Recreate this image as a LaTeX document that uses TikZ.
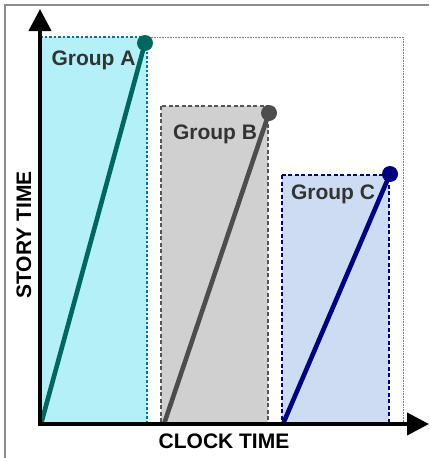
\documentclass[tikz,border=0pt]{standalone}
\usepackage{fontspec}
\setmainfont{Liberation Sans}
\usetikzlibrary{arrows.meta}
\definecolor{framegray}{HTML}{8C8C8C}
\definecolor{afill}{HTML}{B4F0F8}
\definecolor{aborder}{HTML}{0A6E9E}
\definecolor{aline}{HTML}{00665F}
\definecolor{bfill}{HTML}{D0D0D0}
\definecolor{bborder}{HTML}{555555}
\definecolor{bline}{HTML}{4D4D4D}
\definecolor{cfill}{HTML}{CEDCF3}
\definecolor{cborder}{HTML}{000080}
\definecolor{cline}{HTML}{000080}
\definecolor{labelgray}{HTML}{333333}
\tikzset{
  grouplabel/.style={font=\bfseries\fontsize{21}{24}\selectfont, text=labelgray, anchor=base, inner sep=0pt},
  axislabel/.style={font=\bfseries\fontsize{21}{24}\selectfont, text=black, inner sep=0pt},
  groupbox/.style={line width=2.3pt},
  timeline/.style={line width=4.6pt},
  enddot/.style={circle, inner sep=0pt, minimum size=16pt},
  axisline/.style={line width=4pt, -{Triangle[length=22pt,width=22pt]}}
}
\begin{document}
\begin{tikzpicture}[x=1pt,y=-1pt]
\useasboundingbox (0,0) rectangle (429,458);
% outer frame (partially visible)
\draw[framegray, line width=2.2pt] (5,458) -- (5,5) -- (429,5);
% thin dotted extent rectangle
\draw[gray, densely dotted, line width=0.6pt] (40,37) rectangle (403,424);
% group boxes
\draw[groupbox, fill=afill, draw=aborder, dash pattern=on 2.5pt off 2pt] (40,37) rectangle (147,424);
\draw[groupbox, fill=bfill, draw=bborder, dash pattern=on 4pt off 2.5pt] (161,106) rectangle (268,424);
\draw[groupbox, fill=cfill, draw=cborder, dash pattern=on 4pt off 2.5pt] (282,175) rectangle (389,424);
% start coordinates
\coordinate (a0) at (41,424);
\coordinate (b0) at (164,424);
\coordinate (c0) at (283,424);
% end dots
\node[enddot, fill=aline] (adot) at (145,43) {};
\node[enddot, fill=bline] (bdot) at (269,113) {};
\node[enddot, fill=cline] (cdot) at (390,174) {};
% time lines
\draw[timeline, aline] (a0) -- (adot.center);
\draw[timeline, bline] (b0) -- (bdot.center);
\draw[timeline, cline] (c0) -- (cdot.center);
% labels
\node[grouplabel] (la) at (93.5,65) {Group A};
\node[grouplabel] (lb) at (215,139) {Group B};
\node[grouplabel] (lc) at (333,199) {Group C};
% axes
\coordinate (origin) at (40,424);
\coordinate (ytip) at (40,9);
\coordinate (xtip) at (429,424);
\draw[axisline] (40,426) -- (ytip);
\draw[axisline] (38,424) -- (xtip);
\node[axislabel] (xl) at (224,441) {CLOCK TIME};
\node[axislabel, rotate=90] (yl) at (24,235) {STORY TIME};
\end{tikzpicture}
\end{document}
